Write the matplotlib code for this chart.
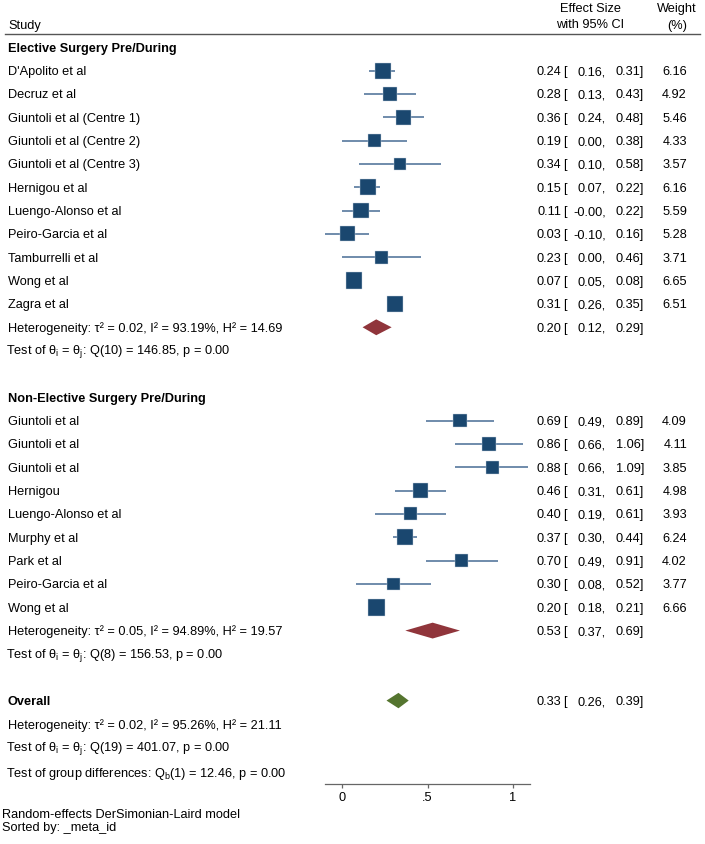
import numpy as np
import matplotlib
matplotlib.use("Agg")
import matplotlib.pyplot as plt
from matplotlib import transforms

plt.rcParams['font.family'] = ['Liberation Sans', 'DejaVu Sans']
plt.rcParams['mathtext.fontset'] = 'custom'
plt.rcParams['mathtext.rm'] = 'Liberation Sans'

# elective surgery pre/during
el_names = ["D'Apolito et al", "Decruz et al", "Giuntoli et al (Centre 1)",
            "Giuntoli et al (Centre 2)", "Giuntoli et al (Centre 3)", "Hernigou et al",
            "Luengo-Alonso et al", "Peiro-Garcia et al", "Tamburrelli et al",
            "Wong et al", "Zagra et al"]
el_es = [0.24, 0.28, 0.36, 0.19, 0.34, 0.15, 0.11, 0.03, 0.23, 0.07, 0.31]
el_lo = [0.16, 0.13, 0.24, 0.00, 0.10, 0.07, -0.00, -0.10, 0.00, 0.05, 0.26]
el_hi = [0.31, 0.43, 0.48, 0.38, 0.58, 0.22, 0.22, 0.16, 0.46, 0.08, 0.35]
el_w = [6.16, 4.92, 5.46, 4.33, 3.57, 6.16, 5.59, 5.28, 3.71, 6.65, 6.51]
el_lo_txt = ["0.16", "0.13", "0.24", "0.00", "0.10", "0.07", "-0.00", "-0.10", "0.00", "0.05", "0.26"]

# non-elective surgery pre/during
ne_names = ["Giuntoli et al", "Giuntoli et al", "Giuntoli et al", "Hernigou",
            "Luengo-Alonso et al", "Murphy et al", "Park et al", "Peiro-Garcia et al",
            "Wong et al"]
ne_es = [0.69, 0.86, 0.88, 0.46, 0.40, 0.37, 0.70, 0.30, 0.20]
ne_lo = [0.49, 0.66, 0.66, 0.31, 0.19, 0.30, 0.49, 0.08, 0.18]
ne_hi = [0.89, 1.06, 1.09, 0.61, 0.61, 0.44, 0.91, 0.52, 0.21]
ne_w = [4.09, 4.11, 3.85, 4.98, 3.93, 6.24, 4.02, 3.77, 6.66]
ne_lo_txt = ["%.2f" % v for v in ne_lo]

# pooled estimates (es, lo, hi)
el_pool = (0.20, 0.12, 0.29)
ne_pool = (0.53, 0.37, 0.69)
all_pool = (0.33, 0.26, 0.39)

el_het = r"Heterogeneity: τ² = 0.02, I² = 93.19%, H² = 14.69"
el_test = r"Test of $\mathregular{\theta_i}$ = $\mathregular{\theta_j}$: Q(10) = 146.85, p = 0.00"
ne_het = r"Heterogeneity: τ² = 0.05, I² = 94.89%, H² = 19.57"
ne_test = r"Test of $\mathregular{\theta_i}$ = $\mathregular{\theta_j}$: Q(8) = 156.53, p = 0.00"
all_het = r"Heterogeneity: τ² = 0.02, I² = 95.26%, H² = 21.11"
all_test = r"Test of $\mathregular{\theta_i}$ = $\mathregular{\theta_j}$: Q(19) = 401.07, p = 0.00"
grp_test = r"Test of group differences: $\mathregular{Q_b}$(1) = 12.46, p = 0.00"

NAVY = "#1a476f"
CI_COL = "#56789d"
MAROON = "#90353b"
GREEN = "#55752f"
FS = 9.2

W, H = 705, 844
fig = plt.figure(figsize=(W / 100, H / 100), dpi=100)
# plot panel: x axis line at pixel row 784, from pixel 325 to 530
ax = fig.add_axes([325 / W, (H - 784) / H, 205 / W, 784 / H])
ax.set_xlim(-0.1, 1.1)
ax.set_ylim((784 - 24) / 23.33, -24 / 23.33)
for s in ["top", "left", "right"]:
    ax.spines[s].set_visible(False)
ax.spines["bottom"].set_color("#666666")
ax.spines["bottom"].set_linewidth(0.9)
ax.set_yticks([])
ax.set_xticks([0, 0.5, 1])
ax.set_xticklabels(["0", ".5", "1"], fontsize=FS)
ax.tick_params(axis="x", length=3, width=0.9, color="#666666", pad=3)
ax.patch.set_alpha(0)

tr = transforms.blended_transform_factory(fig.transFigure, ax.transData)


def px(x):
    return x / W


def txt(x, y, s, **kw):
    kw.setdefault("fontsize", FS)
    kw.setdefault("va", "center_baseline")
    ax.text(px(x), y, s, transform=tr, clip_on=False, **kw)


def mtxt(y, s):
    # mathtext lines sit a little lower and further right; nudge them back
    txt(6, y - 0.08, s)


def ci_text(y, es, lo_txt, hi, w=None):
    txt(561, y, "%.2f" % es, ha="right")
    txt(563, y, "[", ha="left")
    txt(606, y, lo_txt + ",", ha="right")
    txt(644, y, "%.2f]" % hi, ha="right")
    if w is not None:
        txt(687, y, "%.2f" % w, ha="right")


def study_rows(rows, names, es, lo, hi, w, lo_txt):
    rows = np.asarray(rows)
    ax.hlines(rows, lo, hi, color=CI_COL, lw=1.2, zorder=2)
    side = 4.7 * np.sqrt(np.asarray(w))
    ax.scatter(es, rows, s=side ** 2, marker="s", color=NAVY,
               edgecolor="#c8d3df", linewidth=0.3, zorder=3)
    for r, n, e, l, h, ww in zip(rows, names, es, lo_txt, hi, w):
        txt(8, r, n)
        ci_text(r, e, l, h, ww)


def diamond(y, pool, color, hh=0.34):
    e, l, h = pool
    ax.fill([l, e, h, e], [y, y - hh, y, y + hh], color=color, lw=0, zorder=3)
    ci_text(y, e, "%.2f" % l, h)


# header
txt(8, 0, "Study")
txt(590, -0.72, "Effect Size", ha="center")
txt(590, 0, "with 95% CI", ha="center")
txt(677, -0.72, "Weight", ha="center")
txt(677, 0, "(%)", ha="center")
ax.plot([px(5), px(700)], [0.42, 0.42], transform=tr, color="#555555",
        lw=1.0, clip_on=False)

# elective
txt(8, 1, "Elective Surgery Pre/During", fontweight="bold")
study_rows(range(2, 2 + len(el_names)), el_names, el_es, el_lo, el_hi, el_w, el_lo_txt)
diamond(13, el_pool, MAROON)
txt(8, 13, el_het)
mtxt(14, el_test)

# non-elective
txt(8, 16, "Non-Elective Surgery Pre/During", fontweight="bold")
study_rows(range(17, 17 + len(ne_names)), ne_names, ne_es, ne_lo, ne_hi, ne_w, ne_lo_txt)
diamond(26, ne_pool, MAROON)
txt(8, 26, ne_het)
mtxt(27, ne_test)

# overall
txt(8, 29, "Overall", fontweight="bold")
diamond(29, all_pool, GREEN, hh=0.33)
txt(8, 30, all_het)
mtxt(31, all_test)
mtxt(32.1, grp_test)

fig.text(px(2), 1 - 814 / H, "Random-effects DerSimonian-Laird model",
         fontsize=FS, va="center_baseline")
fig.text(px(2), 1 - 827 / H, "Sorted by: _meta_id", fontsize=FS, va="center_baseline")

fig.savefig("out.png", dpi=100)
